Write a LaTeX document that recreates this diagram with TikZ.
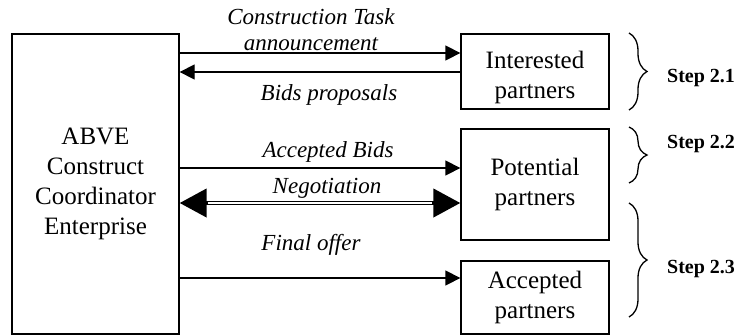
\documentclass[tikz,border=0pt]{standalone}
\usepackage{fontspec}
\setmainfont{Liberation Serif}
\usetikzlibrary{arrows.meta,decorations.pathreplacing}

\begin{document}
\begin{tikzpicture}[x=1pt,y=-1pt,
  box/.style={draw,line width=1.3pt,rectangle,align=center,inner sep=0pt,font=\fontsize{25}{30}\selectfont},
  msg/.style={line width=1.3pt,-{Triangle[length=15pt,width=15pt]}},
  nego/.style={line width=4.2pt,{Triangle[length=27pt,width=28pt]}-{Triangle[length=27pt,width=28pt]}},
  lbl/.style={font=\fontsize{23}{26}\selectfont\itshape,align=center,inner sep=0pt},
  stepbrace/.style={decorate,decoration={brace,amplitude=18pt},line width=1.3pt},
  steplbl/.style={font=\fontsize{20}{24}\selectfont\bfseries,anchor=west,inner sep=0pt}]
\useasboundingbox (0,0) rectangle (741,335);
%\draw[help lines,step=50] (0,0) grid (741,335);

\node[box,minimum width=167pt,minimum height=300pt] (abve) at (95.5,184) {ABVE\\Construct\\Coordinator\\Enterprise};
\node[box,minimum width=148pt,minimum height=75pt] (interested) at (535,71.5) {\rule{0pt}{30pt}Interested\\partners};
\node[box,minimum width=148pt,minimum height=111pt] (potential) at (535,184.5) {Potential\\partners};
\node[box,minimum width=148pt,minimum height=73pt] (accepted) at (535,297.5) {Accepted\\partners};

\foreach \n/\y in {r1/53, r2/72, r3/168, r4/203, r5/278}
  \coordinate (\n) at (0,\y);

\draw[msg] (abve.east |- r1) -- (interested.west |- r1);
\draw[msg] (interested.west |- r2) -- (abve.east |- r2);
\draw[msg] (abve.east |- r3) -- (potential.west |- r3);
\draw[nego] (abve.east |- r4) -- (potential.west |- r4);
\draw[white,line width=1.4pt,shorten <=28pt,shorten >=28pt] (abve.east |- r4) -- (potential.west |- r4);
\draw[msg] (abve.east |- r5) -- (accepted.west |- r5);

\node[lbl] (task) at (311,30) {Construction Task\\announcement};
\node[lbl] (bids) at (329,95) {Bids proposals};
\node[lbl] (accbids) at (328,152) {Accepted Bids};
\node[lbl] (negotiation) at (327,188) {Negotiation};
\node[lbl] (final) at (311,245) {Final offer};

\foreach \t/\b in {33/110, 127/183, 203/317}
  \draw[stepbrace] (629,\t) -- (629,\b);

\foreach \n/\y/\s in {s1/78/2.1, s2/144/2.2, s3/269/2.3}
  \node[steplbl] (\n) at (667,\y) {Step \s};
\end{tikzpicture}
\end{document}
